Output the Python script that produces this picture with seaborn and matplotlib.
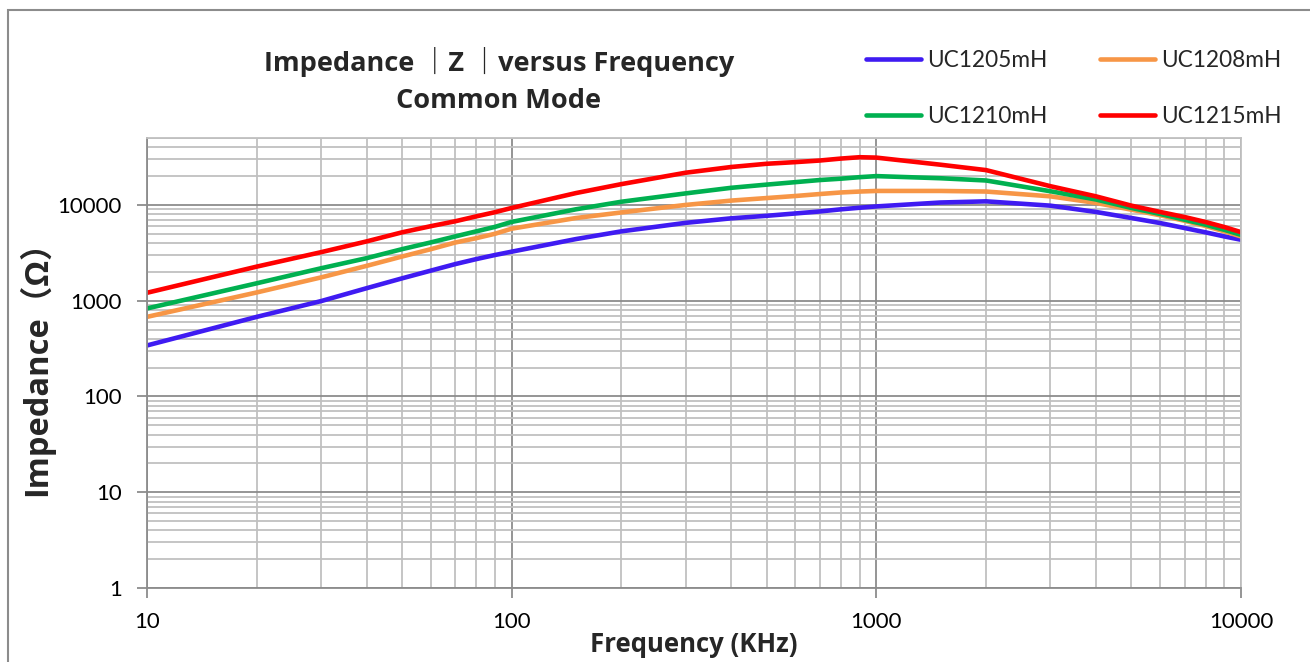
import numpy as np
import pandas as pd
import matplotlib
matplotlib.use("Agg")
import matplotlib.pyplot as plt
import matplotlib.ticker as mticker
from matplotlib.patches import Rectangle
import seaborn as sns

freq_khz = [10, 20, 30, 40, 50, 60, 70, 80, 90, 100, 150,
            200, 300, 400, 500, 600, 700, 800, 900, 1000, 1500,
            2000, 3000, 4000, 5000, 6000, 7000, 8000, 9000, 10000]

uc1205 = [341, 678, 990, 1350, 1710, 2060, 2410, 2720, 3000, 3250, 4400,
          5300, 6500, 7250, 7700, 8150, 8550, 9000, 9350, 9650, 10600,
          10900, 9830, 8450, 7310, 6470, 5740, 5170, 4690, 4330]
uc1208 = [678, 1220, 1750, 2310, 2890, 3450, 4050, 4500, 5000, 5650, 7300,
          8350, 10000, 11100, 11800, 12400, 13000, 13500, 13800, 14000, 14000,
          13800, 12300, 10500, 8930, 7800, 6840, 6020, 5300, 4690]
uc1210 = [830, 1520, 2180, 2780, 3450, 4060, 4690, 5300, 5900, 6650, 9000,
          10800, 13200, 15100, 16300, 17300, 18200, 18800, 19500, 20000, 19000,
          18000, 13900, 11400, 9310, 8050, 7010, 6210, 5500, 4870]
uc1215 = [1210, 2270, 3210, 4160, 5170, 6000, 6750, 7600, 8400, 9300, 13300,
          16500, 21700, 24900, 26900, 28000, 29100, 30500, 31500, 31200, 26300,
          23100, 15700, 12300, 9840, 8450, 7480, 6630, 5880, 5200]

series_names = ["UC1205mH", "UC1208mH", "UC1210mH", "UC1215mH"]
series_values = [uc1205, uc1208, uc1210, uc1215]
series_colors = ["#3F1BF2", "#F79646", "#00B050", "#FF0000"]

y_ticks = [1, 10, 100, 1000, 10000]
x_ticks = [10, 100, 1000, 10000]

rows = []
for name, vals in zip(series_names, series_values):
    for f, z in zip(freq_khz, vals):
        rows.append({"freq": f, "Z": z, "series": name})
df = pd.DataFrame(rows)

sns.set_theme(style="white")
plt.rcParams["font.family"] = ["Lato", "Noto Sans CJK SC", "DejaVu Sans"]
bold_family = ["Open Sans", "Noto Sans CJK SC", "DejaVu Sans"]

fig = plt.figure(figsize=(13.1, 6.62), dpi=100)
ax = fig.add_axes([147/1310, 1-588/662, (1241-147)/1310, (588-138)/662])
ax.set_xscale("log")
ax.set_yscale("log")

sns.lineplot(data=df, x="freq", y="Z", hue="series",
             palette=dict(zip(series_names, series_colors)),
             hue_order=series_names, linewidth=3.3, ax=ax,
             estimator=None, sort=True)
for ln in ax.get_lines():
    ln.set_solid_capstyle("round")
    ln.set_solid_joinstyle("round")

ax.set_xlim(10, 10000)
ax.set_ylim(1, 50000)

ax.xaxis.set_major_locator(mticker.FixedLocator(x_ticks))
ax.yaxis.set_major_locator(mticker.FixedLocator(y_ticks))
ax.xaxis.set_major_formatter(mticker.FuncFormatter(lambda v, p: f"{int(round(v))}"))
ax.yaxis.set_major_formatter(mticker.FuncFormatter(lambda v, p: f"{int(round(v))}"))
ax.xaxis.set_minor_locator(mticker.LogLocator(base=10, subs=np.arange(2, 10), numticks=20))
ax.yaxis.set_minor_locator(mticker.LogLocator(base=10, subs=np.arange(2, 10), numticks=20))
ax.xaxis.set_minor_formatter(mticker.NullFormatter())
ax.yaxis.set_minor_formatter(mticker.NullFormatter())

ax.grid(which="major", color="#8C8C8C", linewidth=1.3)
ax.grid(which="minor", color="#C0C0C0", linewidth=1.3)
ax.set_axisbelow(True)

ax.tick_params(which="major", direction="out", length=7, width=1.3,
               color="#8C8C8C", labelsize=16, labelcolor="black")
ax.tick_params(which="minor", length=0)
ax.tick_params(axis="x", which="major", bottom=True, pad=10)
ax.tick_params(axis="y", which="major", left=True, pad=11)

for side in ["left", "bottom"]:
    ax.spines[side].set_color("#8C8C8C")
    ax.spines[side].set_linewidth(1.3)
for side in ["top", "right"]:
    ax.spines[side].set_color("#C0C0C0")
    ax.spines[side].set_linewidth(1.3)

ax.set_xlabel("")
ax.set_ylabel("")

fig.text(694/1310, 1-645/662, "Frequency (KHz)", ha="center", va="center",
         fontsize=18.5, fontweight="bold", family=bold_family)
fig.text(36/1310, 1-360/662, "Impedance（Ω）", ha="center", va="center",
         rotation=90, fontsize=23.5, fontweight="bold", family=bold_family)

fig.text(499/1310, 1-62/662, "Impedance ｜Z ｜versus Frequency", ha="center",
         va="center", fontsize=19.5, fontweight="bold", family=bold_family)
fig.text(499/1310, 1-101/662, "Common Mode", ha="center", va="center",
         fontsize=19.5, fontweight="bold", family=bold_family)

handles, labels = ax.get_legend_handles_labels()
ax.get_legend().remove()
hmap = dict(zip(labels, handles))
order = ["UC1205mH", "UC1210mH", "UC1208mH", "UC1215mH"]
fig.legend([hmap[o] for o in order], order, loc="upper left",
           bbox_to_anchor=(866/1310, 1-50/662), ncol=2, frameon=False,
           fontsize=16.3, handlelength=2.45, handletextpad=0.25,
           columnspacing=2.3, labelspacing=1.55, borderpad=0,
           borderaxespad=0)

fig.patches.append(Rectangle((8/1310, -0.1), 1.2, 1.1 - 10/662,
                             transform=fig.transFigure, fill=False,
                             edgecolor="#8C8C8C", linewidth=1.5))

fig.savefig("out.png", dpi=100, facecolor="white")
